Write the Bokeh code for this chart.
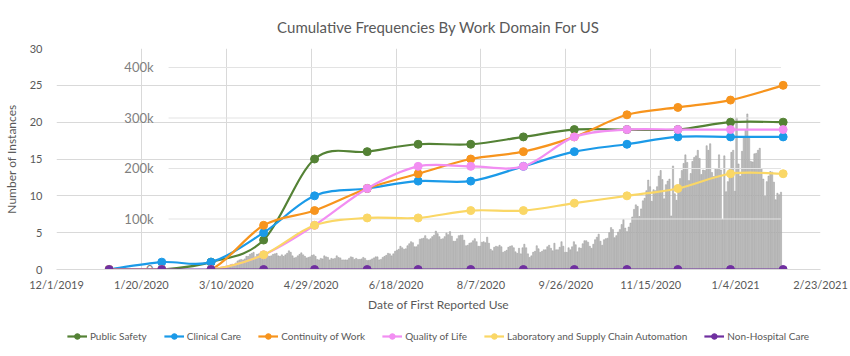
from datetime import datetime, timedelta
import numpy as np
from bokeh.plotting import figure
from bokeh.layouts import column
from bokeh.models import (Range1d, FixedTicker, Legend, LegendItem, ColumnDataSource)
from bokeh.core.properties import value
from bokeh.embed import file_html
from bokeh.resources import INLINE

# ---------------- data ----------------
title_text = "Cumulative Frequencies By Work Domain For US"
x_label = "Date of First Reported Use"
y_label = "Number of Instances"

months = [datetime(2020, m, 1) for m in range(1, 13)] + [datetime(2021, 1, 1), datetime(2021, 2, 1)]
public_safety = [0, 0, 1, 4, 15, 16, 17, 17, 18, 19, 19, 19, 20, 20]
clinical_care = [0, 1, 1, 5, 10, 11, 12, 12, 14, 16, 17, 18, 18, 18]
continuity_of_work = [0, 0, 0, 6, 8, 11, 13, 15, 16, 18, 21, 22, 23, 25]
quality_of_life = [0, 0, 0, 2, 6, 11, 14, 14, 14, 18, 19, 19, 19, 19]
lab_supply_chain = [0, 0, 0, 2, 6, 7, 7, 8, 8, 9, 10, 11, 13, 13]
non_hospital_care = [0, 0, 0, 0, 0, 0, 0, 0, 0, 0, 0, 0, 0, 0]

series_names = ["Public Safety", "Clinical Care", "Continuity of Work", "Quality of Life",
                "Laboratory and Supply Chain Automation", "Non-Hospital Care"]
series_values = [public_safety, clinical_care, continuity_of_work, quality_of_life,
                 lab_supply_chain, non_hospital_care]
series_colors = ["#548235", "#1b9ae8", "#f7941d", "#f28ef2", "#fad766", "#7030a0"]

x_tick_dates = [datetime(2019, 12, 1) + timedelta(days=50 * i) for i in range(10)]
x_tick_labels = ["12/1/2019", "1/20/2020", "3/10/2020", "4/29/2020", "6/18/2020",
                 "8/7/2020", "9/26/2020", "11/15/2020", "1/4/2021", "2/23/2021"]
y_ticks = [0, 5, 10, 15, 20, 25, 30]

# background overlay: daily new cases (thousands), starting 2020-03-01
daily_start = datetime(2020, 3, 1)
cases_mar = [0.0, 0.0, 0.0, 0.1, 0.1, 0.1, 0.1, 0.1, 0.2, 0.3, 0.5, 0.6, 1.0, 0.8, 1.2, 1.7,
             2.5, 3.3, 4.8, 5.6, 6.9, 9.3, 10.5, 9.7, 13, 17, 19, 20, 19, 21, 26]
cases_apr = [26, 30, 32, 34, 25, 30, 31, 32, 34, 34, 30, 27, 26, 27, 30, 31, 32, 27, 26, 29,
             26, 29, 32, 37, 34, 27, 23, 24, 27, 30]
cases_may = [33, 29, 26, 23, 24, 25, 28, 29, 26, 20, 19, 22, 21, 27, 25, 24, 19, 22, 21, 22,
             27, 24, 23, 19, 19, 19, 19, 22, 25, 24, 20]
cases_jun = [22, 20, 20, 21, 24, 22, 18, 18, 19, 21, 23, 25, 25, 19, 20, 24, 26, 28, 32, 31,
             27, 31, 36, 38, 40, 46, 43, 40, 41, 47]
cases_jul = [51, 55, 53, 45, 45, 49, 60, 61, 62, 67, 61, 59, 61, 65, 68, 76, 71, 65, 60, 61,
             65, 72, 69, 75, 66, 56, 56, 61, 67, 68, 68]
cases_aug = [58, 47, 48, 52, 53, 57, 61, 55, 46, 46, 54, 55, 53, 64, 52, 40, 37, 44, 46, 45,
             48, 45, 34, 36, 38, 44, 46, 47, 43, 35, 32]
cases_sep = [42, 31, 43, 50, 43, 31, 24, 27, 34, 36, 47, 41, 34, 36, 39, 39, 45, 48, 42, 37,
             52, 39, 39, 44, 55, 46, 34, 34, 43, 39]
cases_oct = [45, 55, 49, 35, 43, 42, 51, 57, 57, 54, 46, 42, 50, 59, 64, 70, 56, 48, 59, 61,
             62, 73, 83, 79, 63, 67, 74, 79, 89, 99, 82]
cases_nov = [75, 84, 92, 104, 119, 128, 125, 105, 120, 136, 141, 156, 177, 164, 135, 158, 156,
             164, 185, 196, 178, 140, 168, 175, 179, 106, 205, 150, 137, 158]
cases_dec = [180, 196, 210, 227, 212, 176, 190, 214, 222, 225, 236, 220, 188, 197, 196, 245,
             236, 249, 192, 184, 200, 198, 227, 197, 99, 225, 154, 174, 200, 232, 236]
cases_jan = [155, 300, 209, 185, 234, 262, 277, 308, 260, 214, 213, 229, 230, 236, 240, 200,
             179, 145, 174, 185, 194, 193, 173, 138, 151, 148, 153]
cases_ticks = [0, 100, 200, 300, 400]
cases_tick_labels = ["0", "100k", "200k", "300k", "400k"]

# ---------------- helpers ----------------
EPOCH = datetime(1970, 1, 1)


def ms(d):
    return (d - EPOCH).total_seconds() * 1000.0


def smooth(xs, ys):
    x = np.array([ms(d) for d in xs])
    y = np.array(ys, dtype=float)
    P = np.column_stack([x, y])
    E = np.vstack([P[0], P, P[-1]])
    out = dict(x0=[], y0=[], x1=[], y1=[], cx0=[], cy0=[], cx1=[], cy1=[])
    for i in range(len(P) - 1):
        p0, p1, p2, p3 = E[i], E[i + 1], E[i + 2], E[i + 3]
        c1 = p1 + (p2 - p0) / 6.0
        c2 = p2 - (p3 - p1) / 6.0
        out["x0"].append(p1[0]); out["y0"].append(p1[1])
        out["x1"].append(p2[0]); out["y1"].append(p2[1])
        out["cx0"].append(c1[0]); out["cy0"].append(c1[1])
        out["cx1"].append(c2[0]); out["cy1"].append(c2[1])
    return out


FONT = "Lato"
GREY_TEXT = "#595959"

p = figure(width=850, height=316, output_backend="svg", toolbar_location=None,
           x_range=Range1d(ms(x_tick_dates[0]), ms(x_tick_dates[-1])),
           y_range=Range1d(0, 30),
           min_border_left=43, min_border_right=30, min_border_top=48, min_border_bottom=47,
           title=title_text)
p.extra_x_ranges = {"cases": Range1d(ms(datetime(2019, 12, 14, 16)), ms(datetime(2021, 2, 18, 8)))}
p.extra_y_ranges = {"cases": Range1d(0, 437.6)}

p.title.align = "center"
p.title.text_font = FONT
p.title.text_font_size = "15px"
p.title.text_font_style = "normal"
p.title.text_color = GREY_TEXT
p.title.standoff = 25
p.outline_line_color = None
p.background_fill_color = "white"

# axes
p.xaxis.ticker = FixedTicker(ticks=[ms(d) for d in x_tick_dates])
p.xaxis.major_label_overrides = {int(ms(d)): lbl for d, lbl in zip(x_tick_dates, x_tick_labels)}
p.yaxis.ticker = FixedTicker(ticks=y_ticks)
for ax in (p.xaxis[0], p.yaxis[0]):
    ax.major_tick_line_color = None
    ax.minor_tick_line_color = None
    ax.major_label_text_font = FONT
    ax.major_label_text_font_size = "11px"
    ax.major_label_text_color = GREY_TEXT
    ax.axis_label_text_font = FONT
    ax.axis_label_text_font_size = "12px"
    ax.axis_label_text_font_style = "normal"
    ax.axis_label_text_color = GREY_TEXT
p.xaxis.axis_line_color = "#d9d9d9"
p.yaxis.axis_line_color = None
p.xaxis.axis_label = x_label
p.yaxis.axis_label = y_label
p.xaxis.major_label_standoff = 2
p.yaxis.major_label_standoff = 8
p.xaxis.axis_label_standoff = 3
p.yaxis.axis_label_standoff = 8
p.xgrid.grid_line_color = "#d9d9d9"
p.ygrid.grid_line_color = "#d9d9d9"

# overlay: daily cases bars
cases = cases_mar + cases_apr + cases_may + cases_jun + cases_jul + cases_aug + \
    cases_sep + cases_oct + cases_nov + cases_dec + cases_jan
case_dates = [ms(daily_start + timedelta(days=i)) for i in range(len(cases))]
p.vbar(x=case_dates, top=cases, bottom=0, width=0.7 * 86400000,
       x_range_name="cases", y_range_name="cases",
       fill_color="#c2c2c2", line_color="#9a9a9a", line_width=0.5)

# overlay gridlines and labels
grid_start = ms(datetime(2020, 2, 16))
grid_end = ms(datetime(2021, 1, 27))
gl = [t for t in cases_ticks if t > 0]
p.segment(x0=[grid_start] * len(gl), x1=[grid_end] * len(gl), y0=gl, y1=gl,
          x_range_name="cases", y_range_name="cases", line_color="#e3e3e3", line_width=1)
p.text(x=[grid_start] * len(cases_ticks), y=cases_ticks, text=cases_tick_labels,
       x_range_name="cases", y_range_name="cases", x_offset=-15,
       text_align="right", text_baseline="middle", text_font=value(FONT),
       text_font_size="13px", text_color="#7f7f7f")

# legend strip (separate small figure under the chart; its renderers reuse the
# series data, which lies outside this strip's ranges, so only the legend shows)
pl = figure(width=850, height=40, output_backend="svg", toolbar_location=None,
            x_range=Range1d(0, 1), y_range=Range1d(0, 1),
            min_border_left=0, min_border_right=0, min_border_top=0, min_border_bottom=0)
pl.axis.visible = False
pl.grid.visible = False
pl.outline_line_color = None

items = []
for name, vals, col in zip(series_names, series_values, series_colors):
    src = ColumnDataSource(smooth(months, vals))
    pts = ColumnDataSource(dict(x=[ms(d) for d in months], y=vals))
    p.bezier(source=src, x0="x0", y0="y0", x1="x1", y1="y1",
             cx0="cx0", cy0="cy0", cx1="cx1", cy1="cy1", line_color=col, line_width=2.2)
    p.scatter(source=pts, x="x", y="y", size=8, marker="circle",
              fill_color=col, line_color=col)
    lb = pl.bezier(source=src, x0="x0", y0="y0", x1="x1", y1="y1",
                   cx0="cx0", cy0="cy0", cx1="cx1", cy1="cy1", line_color=col, line_width=2.2)
    ls = pl.scatter(source=pts, x="x", y="y", size=7, marker="circle",
                    fill_color=col, line_color=col)
    items.append(LegendItem(label=name, renderers=[lb, ls]))

legend = Legend(items=items, orientation="horizontal", location="center",
                label_text_font=FONT, label_text_font_size="10px", label_text_color=GREY_TEXT,
                glyph_width=20, glyph_height=14, spacing=17, label_standoff=3,
                padding=0, margin=0, border_line_color=None, background_fill_alpha=0)
pl.add_layout(legend, "center")

layout = column(p, pl, spacing=0)
open("out.html", "w").write(file_html(layout, INLINE))
